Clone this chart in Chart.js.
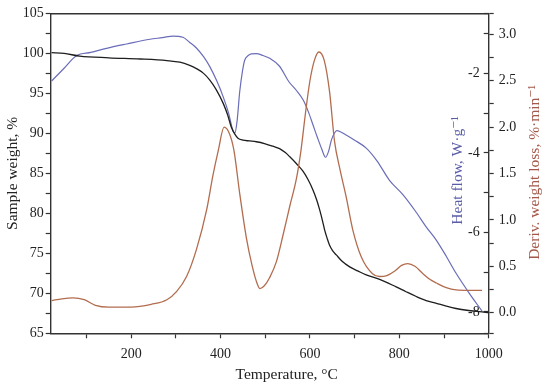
<!DOCTYPE html>
<html>
<head>
<meta charset="utf-8">
<script src="https://cdn.jsdelivr.net/npm/chart.js@4/dist/chart.umd.min.js"></script>
<style>
html,body{margin:0;padding:0;background:#fff;}
#wrap{width:550px;height:386px;position:relative;}
</style>
</head>
<body>
<div id="wrap"><canvas id="c" width="550" height="386"></canvas></div>
<script>
// ---- Data ----
const tgaTemp = [22,50,85,150,220,280,309,331,346,362,376,390,406,416,424,432,439,450,465,480,500,517,532,545,555,570,584,596,607,615,622,628,633,639,644,651,659,672,689,707,726,756,793,815,838,860,883,905,927,955,979,1000];
const tgaWeight = [100.1,100.0,99.66,99.45,99.3,99.1,98.9,98.5,98.1,97.5,96.66,95.5,93.75,92.3,90.8,89.9,89.4,89.15,89.05,88.95,88.7,88.4,88.1,87.6,87.07,86.2,85.3,84.2,82.9,81.7,80.4,79.1,77.9,76.8,76.0,75.3,74.8,74.0,73.3,72.8,72.3,71.75,70.8,70.2,69.6,69.1,68.75,68.4,68.1,67.85,67.7,67.6];

const heatTemp = [22,50,78,110,145,190,242,270,294,316,331,346,362,376,392,406,418,428,432,437,443,449,454,462,469,480,495,510,532,553,570,585,597,607,617,626,635,642,648,655,660,670,681,700,726,750,778,808,835,860,883,905,927,957,985];
const heatFlow = [-2.19,-1.87,-1.55,-1.47,-1.37,-1.26,-1.14,-1.10,-1.06,-1.09,-1.22,-1.36,-1.58,-1.83,-2.2,-2.59,-3.0,-3.45,-3.5,-3.2,-2.45,-1.95,-1.67,-1.55,-1.51,-1.5,-1.55,-1.62,-1.82,-2.21,-2.43,-2.67,-2.98,-3.3,-3.62,-3.89,-4.11,-3.95,-3.68,-3.5,-3.44,-3.48,-3.55,-3.68,-3.88,-4.2,-4.69,-5.05,-5.45,-5.86,-6.2,-6.6,-7.03,-7.54,-7.98];

const dtgTemp = [22,45,70,95,120,150,200,245,280,302,324,346,369,383,395,408,420,430,443,458,470,480,488,498,510,525,540,555,570,580,590,600,610,620,632,644,655,667,681,696,715,740,756,772,790,805,819,835,853,868,883,905,927,955,985];
const dtgRate = [0.13,0.15,0.16,0.14,0.08,0.06,0.06,0.09,0.14,0.23,0.39,0.68,1.11,1.48,1.75,2.0,1.93,1.75,1.28,0.8,0.52,0.34,0.26,0.29,0.38,0.55,0.84,1.15,1.45,1.75,2.15,2.5,2.72,2.81,2.72,2.38,1.85,1.55,1.25,0.89,0.6,0.42,0.39,0.4,0.45,0.51,0.53,0.5,0.42,0.36,0.32,0.27,0.245,0.24,0.24];

const xTickLabels = [200,400,600,800,1000];
const weightTickLabels = [65,70,75,80,85,90,95,100,105];
const heatTickLabels = [-2,-4,-6,-8];
const dtgTickLabels = [0.0,0.5,1.0,1.5,2.0,2.5,3.0];

const xTitle = 'Temperature, °C';
const weightTitle = 'Sample weight, %';
const heatTitle = 'Heat flow, W·g⁻¹';
const dtgTitle = 'Deriv. weight loss, %·min⁻¹';

// ---- Styling ----
const FONT = "'Liberation Serif', 'DejaVu Serif', serif";
const AXIS = '#333333';
const BLACK = '#1e1e1e';
const BLUE = '#6a6db8';
const RED = '#b26c4e';
const BLUE_T = '#5a5ea8';
const RED_T = '#a4584a';

const toXY = (xs, ys) => xs.map((x, i) => ({x: x, y: ys[i]}));
const near = (v, arr) => arr.some(a => Math.abs(a - v) < 1e-6);

function drawText(ctx, text, x, y, color, rot) {
  ctx.save();
  ctx.font = "15.5px " + FONT;
  ctx.textAlign = 'center';
  ctx.textBaseline = 'middle';
  ctx.fillStyle = color;
  ctx.translate(x, y);
  if (rot) ctx.rotate(rot);
  ctx.fillText(text, 0, 0);
  ctx.restore();
}

const axisTitles = {
  id: 'axisTitles',
  afterDraw(chart) {
    const ctx = chart.ctx;
    const ca = chart.chartArea;
    const midY = (ca.top + ca.bottom) / 2;
    drawText(ctx, heatTitle, ca.right - 31, midY - 3, BLUE_T, -Math.PI / 2);
    drawText(ctx, dtgTitle, ca.right + 46, midY - 1, RED_T, -Math.PI / 2);
    drawText(ctx, xTitle, (ca.left + ca.right) / 2 + 17, ca.bottom + 42, '#222', 0);
  }
};

const tickFont = {family: FONT, size: 14};
const lineBase = {pointRadius: 0, cubicInterpolationMode: 'monotone', fill: false};

new Chart(document.getElementById('c'), {
  type: 'line',
  data: {
    datasets: [
      Object.assign({label: 'DTG', data: toXY(dtgTemp, dtgRate), yAxisID: 'yD', borderColor: RED, borderWidth: 1.3}, lineBase),
      Object.assign({label: 'TGA', data: toXY(tgaTemp, tgaWeight), yAxisID: 'y', borderColor: BLACK, borderWidth: 1.3}, lineBase),
      Object.assign({label: 'DSC', data: toXY(heatTemp, heatFlow), yAxisID: 'yH', borderColor: BLUE, borderWidth: 1.2}, lineBase)
    ]
  },
  options: {
    responsive: false,
    animation: false,
    events: [],
    layout: {padding: {top: 13.3, left: 0, right: 0, bottom: 0}},
    plugins: {legend: {display: false}, tooltip: {enabled: false}},
    scales: {
      x: {
        type: 'linear', position: 'bottom', min: 20, max: 1000,
        ticks: {stepSize: 100, includeBounds: false, autoSkip: false, maxRotation: 0, padding: 8, color: '#222', font: tickFont,
          callback: v => near(v, xTickLabels) ? String(v) : ''},
        grid: {drawOnChartArea: false, drawTicks: true, tickLength: 5, tickColor: AXIS, tickWidth: 1.2},
        border: {display: true, color: AXIS, width: 1.4},
        afterFit: s => { s.height = 52.7; }
      },
      x2: {
        type: 'linear', position: 'top', axis: 'x', min: 20, max: 1000,
        ticks: {display: false},
        grid: {drawOnChartArea: false, drawTicks: false},
        border: {display: true, color: AXIS, width: 1.4},
        afterFit: s => { s.height = 0; }
      },
      y: {
        type: 'linear', position: 'left', min: 65, max: 105,
        ticks: {stepSize: 2.5, autoSkip: false, padding: 2, color: '#222', font: tickFont,
          callback: v => near(v, weightTickLabels) ? String(v) : ''},
        grid: {drawOnChartArea: false, drawTicks: true, tickLength: 5, tickColor: AXIS, tickWidth: 1.2},
        border: {display: true, color: AXIS, width: 1.4},
        title: {display: true, text: weightTitle, color: '#222', font: {family: FONT, size: 15.5}, padding: {top: 4, bottom: 0}},
        afterFit: s => { s.width = 50.7; }
      },
      yH: {
        type: 'linear', position: 'right', weight: 0, min: -8.54, max: -0.49,
        ticks: {stepSize: 1, autoSkip: false, mirror: true, padding: -9, color: '#222', font: tickFont,
          callback: v => near(v, heatTickLabels) ? String(v) : ''},
        grid: {drawOnChartArea: false, drawTicks: true, tickLength: -5, tickColor: AXIS, tickWidth: 1.2},
        border: {display: false},
        afterFit: s => { s.width = 0; }
      },
      yD: {
        type: 'linear', position: 'right', weight: 1, min: -0.222, max: 3.226,
        ticks: {stepSize: 0.25, autoSkip: false, padding: 5, color: '#222', font: tickFont,
          callback: v => near(v, dtgTickLabels) ? v.toFixed(1) : ''},
        grid: {drawOnChartArea: false, drawTicks: true, tickLength: 5, tickColor: AXIS, tickWidth: 1.2},
        border: {display: true, color: AXIS, width: 1.4},
        afterFit: s => { s.width = 61.3; }
      }
    }
  },
  plugins: [axisTitles]
});
</script>
</body>
</html>
